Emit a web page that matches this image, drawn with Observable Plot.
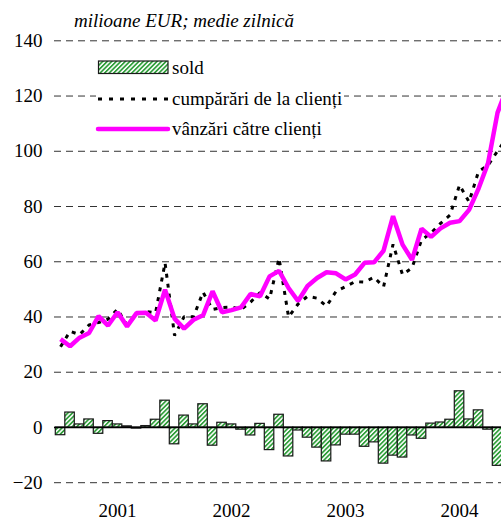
<!DOCTYPE html>
<html>
<head>
<meta charset="utf-8">
<script src="https://cdn.jsdelivr.net/npm/d3@7"></script>
<script src="https://cdn.jsdelivr.net/npm/@observablehq/plot@0.6"></script>
<style>
  body { margin: 0; background: #fff; }
  #wrap { position: relative; width: 501px; height: 520px; overflow: hidden;
          font-family: "Liberation Serif", "Times New Roman", Times, "DejaVu Serif", serif; }
  #wrap > svg { position: absolute; left: 0; top: 0; }
  #wrap svg text { font-family: "Liberation Serif", "Times New Roman", Times, "DejaVu Serif", serif; }
</style>
</head>
<body>
<svg width="0" height="0" style="position:absolute">
  <defs>
    <pattern id="hatch" patternUnits="userSpaceOnUse" width="3.2" height="3.2" patternTransform="rotate(45)">
      <rect width="3.2" height="3.2" fill="#ffffff"></rect>
      <rect width="1.7" height="3.2" fill="#2f9e3a"></rect>
    </pattern>
  </defs>
</svg>
<div id="wrap"></div>
<script>
// Categories: months Jan 2001 – Dec 2004
const months = [
  "2001-01","2001-02","2001-03","2001-04","2001-05","2001-06","2001-07","2001-08","2001-09","2001-10","2001-11","2001-12",
  "2002-01","2002-02","2002-03","2002-04","2002-05","2002-06","2002-07","2002-08","2002-09","2002-10","2002-11","2002-12",
  "2003-01","2003-02","2003-03","2003-04","2003-05","2003-06","2003-07","2003-08","2003-09","2003-10","2003-11","2003-12",
  "2004-01","2004-02","2004-03","2004-04","2004-05","2004-06","2004-07","2004-08","2004-09","2004-10","2004-11","2004-12"
];
// sold (bars)
const sold = [
  -2.8, 5.4, 1.1, 2.9, -2.3, 2.3, 1.1, 0.4, -0.4, 0.5, 2.8, 9.7,
  -6.1, 4.3, 1.1, 8.4, -6.6, 1.7, 1.1, -0.8, -2.9, 1.3, -8.2, 4.6,
  -10.5, -1.1, -3.7, -7.3, -12.3, -6.5, -2.6, -2.6, -7.0, -5.4, -13.1, -10.2,
  -10.9, -2.9, -4.1, 1.4, 1.8, 2.8, 13.1, 2.9, 6.2, -0.8, -13.9, null
];
// cumpărări de la clienți (dotted)
const cumparari = [
  29.2, 34.8, 33.6, 37.1, 38.0, 39.2, 42.8, 37.0, 41.0, 42.0, 41.5, 59.6,
  33.3, 40.1, 40.1, 49.0, 42.7, 43.4, 43.6, 42.7, 45.4, 48.8, 46.5, 61.3,
  40.0, 44.7, 47.5, 46.8, 43.9, 49.3, 51.0, 52.8, 52.6, 54.4, 50.9, 66.3,
  55.3, 57.8, 67.9, 70.4, 73.9, 76.9, 87.8, 81.7, 92.7, 94.9, 100.1, 105.0
];
// vânzări către clienți (magenta)
const vanzari = [
  32.0, 29.4, 32.5, 34.2, 40.3, 36.9, 41.7, 36.6, 41.4, 41.5, 38.7, 49.9,
  39.4, 35.8, 39.0, 40.6, 49.3, 41.7, 42.5, 43.5, 48.3, 47.5, 54.7, 56.7,
  50.5, 45.8, 51.2, 54.1, 56.2, 55.8, 53.6, 55.4, 59.6, 59.8, 64.0, 76.5,
  66.2, 60.7, 72.0, 69.0, 72.1, 74.1, 74.7, 78.8, 86.5, 95.7, 114.0, 123.0
];
const yTicks = [-20, 0, 20, 40, 60, 80, 100, 120, 140];
const yearTicks = ["2001-07", "2002-07", "2003-07", "2004-07"];
const yearLabels = ["2001", "2002", "2003", "2004"];
const seriesNames = ["sold", "cumpărări de la clienți", "vânzări către clienți"];
const titleText = "milioane EUR; medie zilnică";

const data = months.map((m, i) => ({month: m, sold: sold[i], cump: cumparari[i], vanz: vanzari[i]}));
const FONT = '"Liberation Serif", "Times New Roman", Times, "DejaVu Serif", serif';
const FS = 19;

const chart = Plot.plot({
  width: 501,
  height: 520,
  marginLeft: 54,
  marginRight: 0,
  marginTop: 40.3,
  marginBottom: 37.8,
  style: {fontFamily: FONT, fontSize: FS + "px", color: "#000", background: "transparent", overflow: "hidden"},
  x: {type: "band", domain: months, range: [55.3, 55.3 + months.length * 9.5], padding: 0, round: false},
  y: {domain: [-20, 140], range: [482.2, 40.3]},
  marks: [
    Plot.ruleY(yTicks.filter(d => d !== 0), {stroke: "#333", strokeWidth: 1, strokeDasharray: "7,5"}),
    Plot.barY(data, {x: "month", y: "sold", fill: "url(#hatch)", stroke: "#1a1a1a", strokeWidth: 1.2, inset: 0}),
    Plot.ruleY([0], {stroke: "#000", strokeWidth: 1.5}),
    Plot.lineY(data, {x: "month", y: "cump", stroke: "#000", strokeWidth: 3, strokeDasharray: "4,6", strokeLinecap: "butt", strokeLinejoin: "miter"}),
    Plot.lineY(data, {x: "month", y: "vanz", stroke: "#ff00ff", strokeWidth: 4.5, strokeLinejoin: "miter", strokeLinecap: "butt"}),
    Plot.axisY(yTicks, {tickSize: 0, tickPadding: 12, fontSize: FS, label: null, fill: "#000"}),
    Plot.axisX(yearTicks, {tickSize: 0, tickPadding: 21, fontSize: FS, label: null, fill: "#000",
      tickFormat: d => yearLabels[yearTicks.indexOf(d)]})
  ]
});

const wrap = document.getElementById("wrap");
wrap.appendChild(chart);

// Title and legend overlay
const ov = d3.select(wrap).append("svg")
  .attr("width", 501).attr("height", 520);

ov.append("text").attr("x", 74).attr("y", 27)
  .attr("font-size", FS).attr("font-style", "italic").attr("fill", "#000")
  .text(titleText);

ov.append("rect").attr("x", 96).attr("y", 50).attr("width", 248).attr("height", 93).attr("fill", "#fff");

ov.append("rect").attr("x", 98.5).attr("y", 61).attr("width", 69.5).attr("height", 12.5)
  .attr("fill", "url(#hatch)").attr("stroke", "#1a1a1a").attr("stroke-width", 1.2);
ov.append("line").attr("x1", 98).attr("x2", 168).attr("y1", 99).attr("y2", 99)
  .attr("stroke", "#000").attr("stroke-width", 3).attr("stroke-dasharray", "4,7");
ov.append("line").attr("x1", 98).attr("x2", 168).attr("y1", 129).attr("y2", 129)
  .attr("stroke", "#ff00ff").attr("stroke-width", 4.5).attr("stroke-linecap", "round");

const legendY = [74, 105, 135];
seriesNames.forEach((name, i) => {
  ov.append("text").attr("x", 172).attr("y", legendY[i])
    .attr("font-size", FS).attr("fill", "#000").text(name);
});
</script>
</body>
</html>
